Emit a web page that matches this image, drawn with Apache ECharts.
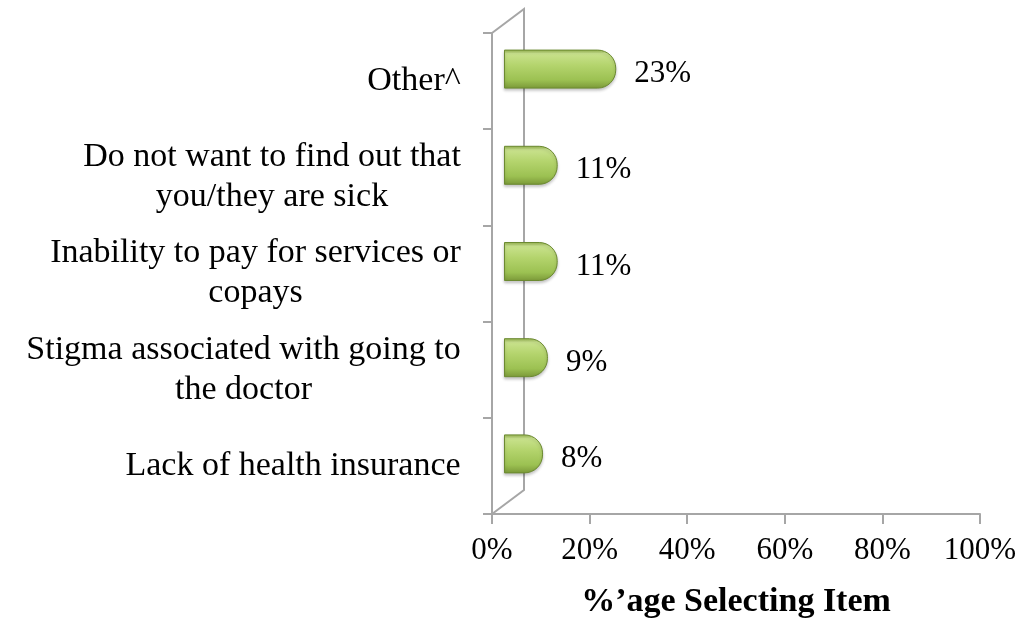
<!DOCTYPE html>
<html>
<head>
<meta charset="utf-8">
<script src="https://cdn.jsdelivr.net/npm/echarts@6/dist/echarts.min.js"></script>
<style>
    html, body {margin: 0; padding: 0; background: #fff;}
    #chart {width: 1020px; height: 624px;}
</style>
</head>
<body>
<div id="chart"></div>
<script>
    // bottom to top, as the category axis draws them
    const categories = [
        'Lack of health insurance',
        'Stigma associated with going to\nthe doctor',
        'Inability to pay for services or\ncopays',
        'Do not want to find out that\nyou/they are sick',
        'Other^'
    ];
    const percentSelecting = [8, 9, 11, 11, 23];
    const xTicks = [0, 20, 40, 60, 80, 100];

    const FONT = '"Liberation Serif", "Times New Roman", serif';
    const axisGrey = '#a6a6a6';

    // layout of the front plane and the 3d depth
    const L = 492, T = 33, W = 488, H = 481;
    const depth = {dx: 32, dy: -24};
    const barShift = {dx: 12, dy: -12};

    // multi-line category labels are centred within their block, like Excel does
    const catSize = 34;
    const ctx = document.createElement('canvas').getContext('2d');
    ctx.font = catSize + 'px ' + FONT;
    const rich = {};
    categories.forEach((c, i) => {
        const w = Math.max(...c.split('\n').map(s => ctx.measureText(s).width));
        rich['c' + i] = {width: Math.ceil(w) + 2, align: 'center', fontSize: catSize, fontFamily: FONT, color: '#000', lineHeight: 40};
    });

    const chart = echarts.init(document.getElementById('chart'));

    const barGradient = new echarts.graphic.LinearGradient(0, 0, 0, 1, [
        {offset: 0, color: '#93b24a'},
        {offset: 0.1, color: '#c9e28d'},
        {offset: 0.4, color: '#b4d46d'},
        {offset: 0.78, color: '#9cc152'},
        {offset: 1, color: '#7a9838'}
    ]);

    const option = {
        backgroundColor: '#fff',
        animation: false,
        textStyle: {fontFamily: FONT},
        grid: [
            {left: L, top: T, width: W, height: H},
            {left: L + barShift.dx, top: T + barShift.dy, width: W, height: H}
        ],
        xAxis: [
            {
                type: 'value', gridIndex: 0, min: xTicks[0], max: xTicks[xTicks.length - 1], interval: 20,
                splitLine: {show: false},
                axisLine: {show: true, lineStyle: {color: axisGrey, width: 2}},
                axisTick: {show: true, length: 10, lineStyle: {color: axisGrey, width: 2}},
                axisLabel: {formatter: '{value}%', fontSize: 31, color: '#000', margin: 21, fontFamily: FONT},
                name: '%\u2019age Selecting Item',
                nameLocation: 'middle',
                nameGap: 71,
                nameTextStyle: {fontSize: 34, fontWeight: 'bold', color: '#000', fontFamily: FONT}
            },
            {type: 'value', gridIndex: 1, min: 0, max: 100, show: false}
        ],
        yAxis: [
            {
                type: 'category', gridIndex: 0, data: categories,
                axisLine: {show: true, lineStyle: {color: axisGrey, width: 2}},
                axisTick: {show: true, length: 9, lineStyle: {color: axisGrey, width: 2}},
                axisLabel: {
                    interval: 0, margin: 30,
                    formatter: (v, i) => v.split('\n').map(s => '{c' + i + '|' + s + '}').join('\n'),
                    rich: rich
                }
            },
            {type: 'category', gridIndex: 1, data: categories, show: false}
        ],
        series: [{
            type: 'bar',
            xAxisIndex: 1,
            yAxisIndex: 1,
            data: percentSelecting,
            barWidth: 39,
            itemStyle: {
                color: barGradient,
                borderColor: '#6c8a31',
                borderWidth: 1,
                borderRadius: [0, 18, 18, 0],
                shadowBlur: 3,
                shadowOffsetY: 2,
                shadowColor: 'rgba(0,0,0,0.22)'
            },
            label: {
                show: true,
                position: 'right',
                distance: 18,
                offset: [0, 5],
                formatter: '{c}%',
                fontSize: 31,
                color: '#000',
                fontFamily: FONT
            }
        }],
        graphic: [{
            type: 'polyline',
            z: -1,
            shape: {
                points: [
                    [L, T],
                    [L + depth.dx, T + depth.dy],
                    [L + depth.dx, T + H + depth.dy],
                    [L, T + H]
                ]
            },
            style: {stroke: axisGrey, lineWidth: 2, fill: null}
        }]
    };

    chart.setOption(option);
</script>
</body>
</html>
